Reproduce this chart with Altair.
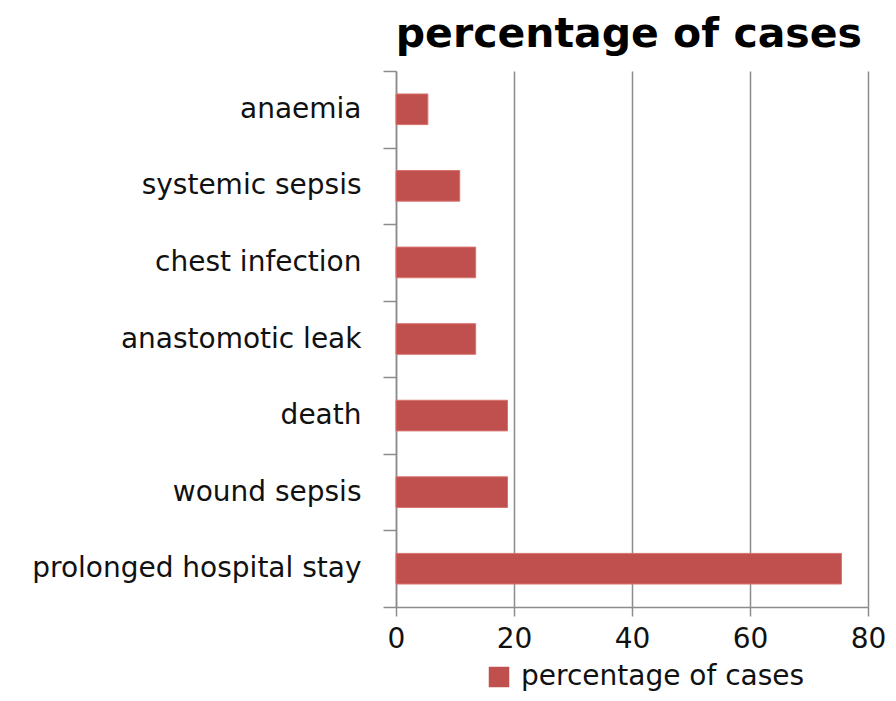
import altair as alt
import pandas as pd

categories = ["anaemia", "systemic sepsis", "chest infection", "anastomotic leak",
              "death", "wound sepsis", "prolonged hospital stay"]
values = [5.4, 10.8, 13.5, 13.5, 18.9, 18.9, 75.5]
series_name = "percentage of cases"
x_ticks = [0, 20, 40, 60, 80]

df = pd.DataFrame({"category": categories, "value": values, "series": series_name})

FONT = "DejaVu Sans"
GRID = "#8c8c8c"
FS = 28

chart = alt.Chart(df).mark_bar(
    height={"band": 0.4}, color="#C0504D", stroke="#D8726F", strokeWidth=1
).encode(
    y=alt.Y("category:N", sort=categories,
            scale=alt.Scale(paddingInner=0, paddingOuter=0),
            axis=alt.Axis(title=None, tickBand="extent", domainColor=GRID, tickColor=GRID,
                          tickSize=13, labelPadding=22, labelFont=FONT, labelFontSize=FS,
                          labelColor="#111", labelLimit=0, grid=False, domainWidth=1.5,
                          tickWidth=1.5)),
    x=alt.X("value:Q", scale=alt.Scale(domain=[0, 80], nice=False),
            axis=alt.Axis(title=None, values=x_ticks, grid=True, gridColor=GRID, gridWidth=1.5,
                          domainColor=GRID, tickColor=GRID, tickSize=9, tickWidth=1.5,
                          domainWidth=1.5, labelPadding=9, labelFont=FONT, labelFontSize=FS,
                          labelColor="#111", labelFlush=False)),
    fill=alt.Fill("series:N", scale=alt.Scale(range=["#C0504D"]),
                  legend=alt.Legend(title=None, orient="none", legendX=89, legendY=592,
                                    symbolType="square", symbolSize=420, symbolStrokeWidth=0,
                                    labelFont=FONT, labelFontSize=FS, labelColor="#111",
                                    labelLimit=0, symbolOffset=0, labelOffset=8)),
).properties(
    width=472, height=536,
    autosize=alt.AutoSizeParams(type="none"),
    padding={"left": 388, "top": 63, "right": 20, "bottom": 86},
    title=alt.TitleParams(series_name, font=FONT, fontSize=41, fontWeight="bold", color="#000",
                          anchor="end", frame="group", dx=-6, offset=1),
).configure_view(stroke=None)

chart.save("out.html", embed_options={"renderer": "svg", "actions": False})
